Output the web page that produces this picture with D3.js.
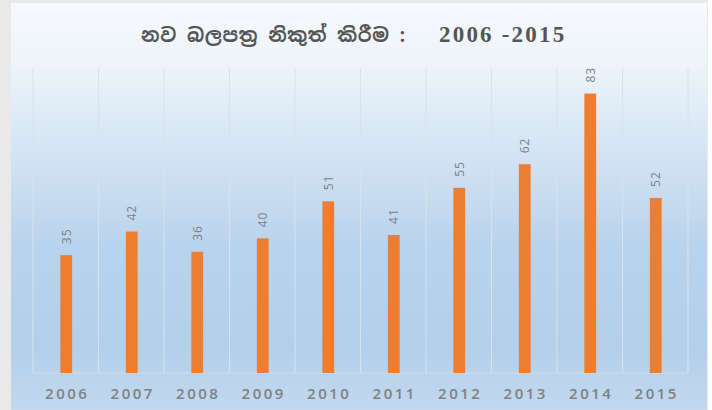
<!DOCTYPE html>
<html>
<head>
<meta charset="utf-8">
<script src="https://cdn.jsdelivr.net/npm/d3@7"></script>
<style>
  html, body { margin: 0; padding: 0; background: #ffffff; }
  svg { display: block; }
</style>
</head>
<body>
<div id="chart"></div>
<script>
const titleText = "නව බලපත්‍ර නිකුත් කිරීම :";
const titleYears = "2006 -2015";
const years = ["2006", "2007", "2008", "2009", "2010", "2011", "2012", "2013", "2014", "2015"];
const licences = [35, 42, 36, 40, 51, 41, 55, 62, 83, 52];

const W = 712, H = 410;
const svg = d3.select("#chart").append("svg").attr("width", W).attr("height", H);

const defs = svg.append("defs");
const grad = defs.append("linearGradient").attr("id", "bg").attr("x1", 0).attr("y1", 0).attr("x2", 0).attr("y2", 1);
[[0, "#f6f9fd"], [0.15, "#edf4fa"], [0.35, "#d5e5f4"], [0.6, "#b9d3ec"], [0.85, "#b4cfea"], [1, "#c2d9ee"]]
  .forEach(([o, c]) => grad.append("stop").attr("offset", o).attr("stop-color", c));

// outer frame
svg.append("rect").attr("x", 0).attr("y", 0).attr("width", 708).attr("height", H).attr("fill", "#e9e9e9");
svg.append("rect").attr("x", 11).attr("y", 3).attr("width", 696).attr("height", H - 3).attr("fill", "url(#bg)");

const x = d3.scaleBand().domain(years).range([33, 688]).paddingInner(0).paddingOuter(0);
const y = d3.scaleLinear().domain([0, 90]).range([373, 70]);

// vertical gridlines at category boundaries
const bounds = years.map(d => x(d)).concat([x(years[years.length - 1]) + x.bandwidth()]);
svg.append("g").selectAll("line").data(bounds).join("line")
  .attr("x1", d => d).attr("x2", d => d)
  .attr("y1", 68).attr("y2", y(0))
  .attr("stroke", "#d8e2ec").attr("stroke-width", 1);

// baseline
svg.append("line").attr("x1", 33).attr("x2", 688).attr("y1", y(0)).attr("y2", y(0))
  .attr("stroke", "#d3dde8").attr("stroke-width", 1);

const bw = x.bandwidth() * 0.18;
svg.append("g").selectAll("rect").data(years).join("rect")
  .attr("x", (d) => x(d) + x.bandwidth() / 2 - bw / 2 + 0.5)
  .attr("width", bw)
  .attr("y", (d, i) => y(licences[i]))
  .attr("height", (d, i) => y(0) - y(licences[i]))
  .attr("fill", "#ed7d31");

// value labels (rotated)
svg.append("g").selectAll("text").data(years).join("text")
  .attr("transform", (d, i) => `translate(${x(d) + x.bandwidth() / 2 + 5},${y(licences[i]) - 11}) rotate(-90)`)
  .attr("text-anchor", "start")
  .attr("font-family", "'Open Sans', 'DejaVu Sans', sans-serif")
  .attr("font-size", 12)
  .attr("letter-spacing", "1px")
  .attr("fill", "#7f7f7f")
  .text((d, i) => licences[i]);

// x axis labels
svg.append("g").selectAll("text").data(years).join("text")
  .attr("x", d => x(d) + x.bandwidth() / 2 + 1.5)
  .attr("y", 399)
  .attr("text-anchor", "middle")
  .attr("font-family", "'Open Sans', 'DejaVu Sans', sans-serif")
  .attr("font-size", 15)
  .attr("font-weight", 600)
  .attr("letter-spacing", "2.5px")
  .attr("fill", "#808080")
  .text(d => d);

// title
svg.append("text")
  .attr("x", 406).attr("y", 42)
  .attr("text-anchor", "end")
  .attr("font-family", "'Noto Sans Sinhala', 'Noto Serif Sinhala', 'Liberation Serif', serif")
  .attr("font-size", 19)
  .attr("font-weight", "bold")
  .attr("letter-spacing", "0.6px")
  .attr("fill", "#555555")
  .text(titleText);
svg.append("text")
  .attr("x", 439).attr("y", 42)
  .attr("text-anchor", "start")
  .attr("font-family", "'Liberation Serif', 'DejaVu Serif', serif")
  .attr("font-size", 23)
  .attr("font-weight", "bold")
  .attr("letter-spacing", "2.2px")
  .attr("fill", "#555555")
  .text(titleYears);
</script>
</body>
</html>
